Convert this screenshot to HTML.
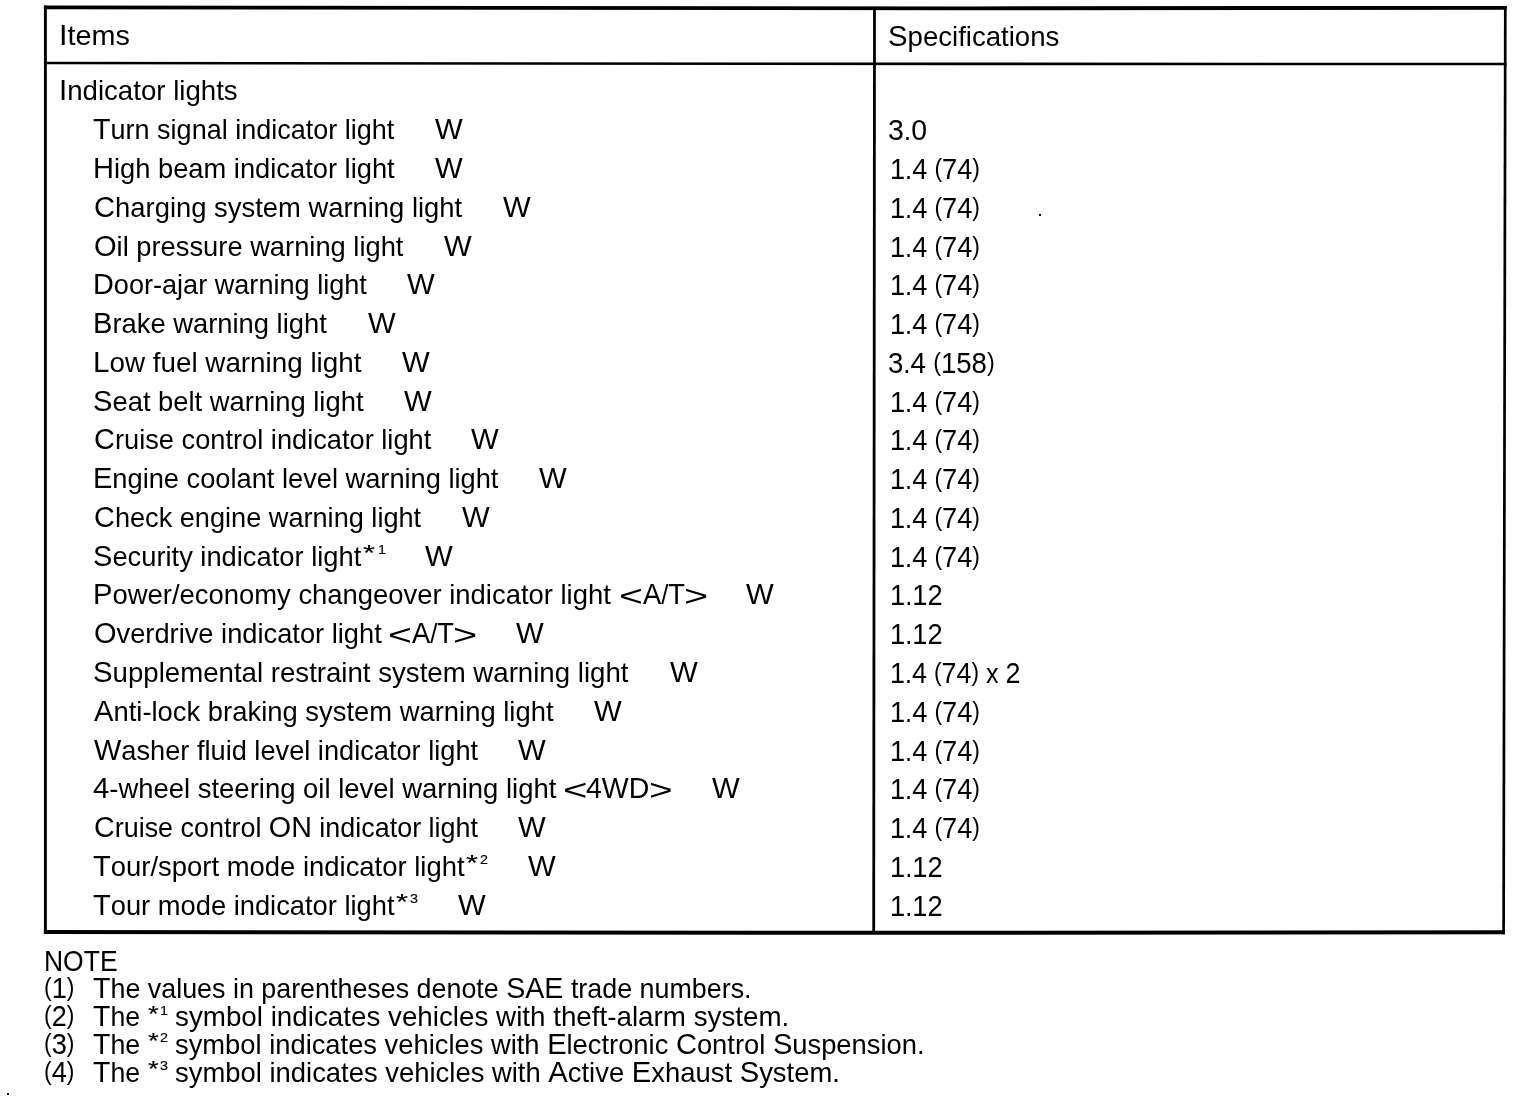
<!DOCTYPE html>
<html lang="en"><head><meta charset="utf-8"><title>Indicator lights specifications</title>
<style>
html,body{margin:0;padding:0;background:#fff;}
body{width:1520px;height:1100px;position:relative;overflow:hidden;font-family:"Liberation Sans",Arial,sans-serif;color:#000;}
.t{position:absolute;white-space:pre;line-height:40px;height:40px;transform-origin:0 0;-webkit-text-stroke:0;}
.s{-webkit-text-stroke:0.15px #000;}
.c{font-size:1.065em;}
.p{font-size:0.9em;position:relative;top:-0.07em;}
svg{position:absolute;left:0;top:0;}
</style></head><body>
<svg width="1520" height="1100" viewBox="0 0 1520 1100">
<g stroke="#000" fill="none" stroke-linecap="butt" stroke-linejoin="miter">
<polyline points="43.9,7.3 970,8.3 1506.6,7.8" stroke-width="3.8"/>
<polyline points="43.9,63.0 970,63.9 1506.6,64.0" stroke-width="2.6"/>
<polyline points="43.9,932.0 880,932.8 1505,932.3" stroke-width="4.1"/>
<line x1="45.4" y1="5.4" x2="45.4" y2="934" stroke-width="2.9"/>
<line x1="1505.3" y1="6" x2="1503.6" y2="934.3" stroke-width="2.7"/>
<line x1="874.5" y1="7" x2="873.7" y2="932" stroke-width="2.8"/>
</g>
<rect x="1039" y="214" width="2" height="2" fill="#000"/>
<rect x="7" y="1093" width="2" height="2" fill="#000"/>
</svg>
<div class="t" style="left:59.00px;top:15px;font-size:28.30px;transform:scaleX(1.0167)"><span class="c">I</span>tems</div>
<div class="t" style="left:888.14px;top:16px;font-size:28.30px;transform:scaleX(0.9743)"><span class="c">S</span>pecifications</div>
<div class="t" style="left:59.12px;top:70px;font-size:28.30px;transform:scaleX(0.9763)"><span class="c">I</span>ndicator lights</div>
<div class="t" style="left:93.28px;top:109px;font-size:28.30px;transform:scaleX(0.9544)"><span class="c">T</span>urn signal indicator light</div>
<div class="t" style="left:434.76px;top:109px;font-size:28.30px;transform:scaleX(0.9750)"><span class="c">W</span></div>
<div class="t" style="left:887.92px;top:110px;font-size:28.30px;transform:scaleX(0.9436)"><span class="c">3</span>.<span class="c">0</span></div>
<div class="t" style="left:93.39px;top:148px;font-size:28.30px;transform:scaleX(0.9645)"><span class="c">H</span>igh beam indicator light</div>
<div class="t" style="left:435.16px;top:148px;font-size:28.30px;transform:scaleX(0.9750)"><span class="c">W</span></div>
<div class="t" style="left:889.97px;top:149px;font-size:28.30px;transform:scaleX(0.9021)"><span class="c">1</span>.<span class="c">4</span> <span class="p">(</span><span class="c">74</span><span class="p">)</span></div>
<div class="t" style="left:93.95px;top:187px;font-size:28.30px;transform:scaleX(0.9679)"><span class="c">C</span>harging system warning light</div>
<div class="t" style="left:502.76px;top:187px;font-size:28.30px;transform:scaleX(0.9750)"><span class="c">W</span></div>
<div class="t" style="left:889.97px;top:188px;font-size:28.30px;transform:scaleX(0.9021)"><span class="c">1</span>.<span class="c">4</span> <span class="p">(</span><span class="c">74</span><span class="p">)</span></div>
<div class="t" style="left:93.95px;top:226px;font-size:28.30px;transform:scaleX(0.9649)"><span class="c">O</span>il pressure warning light</div>
<div class="t" style="left:443.76px;top:226px;font-size:28.30px;transform:scaleX(0.9750)"><span class="c">W</span></div>
<div class="t" style="left:889.97px;top:227px;font-size:28.30px;transform:scaleX(0.9021)"><span class="c">1</span>.<span class="c">4</span> <span class="p">(</span><span class="c">74</span><span class="p">)</span></div>
<div class="t" style="left:93.41px;top:264px;font-size:28.30px;transform:scaleX(0.9575)"><span class="c">D</span>oor-ajar warning light</div>
<div class="t" style="left:407.36px;top:264px;font-size:28.30px;transform:scaleX(0.9750)"><span class="c">W</span></div>
<div class="t" style="left:889.97px;top:265px;font-size:28.30px;transform:scaleX(0.9021)"><span class="c">1</span>.<span class="c">4</span> <span class="p">(</span><span class="c">74</span><span class="p">)</span></div>
<div class="t" style="left:93.38px;top:303px;font-size:28.30px;transform:scaleX(0.9664)"><span class="c">B</span>rake warning light</div>
<div class="t" style="left:367.76px;top:303px;font-size:28.30px;transform:scaleX(0.9750)"><span class="c">W</span></div>
<div class="t" style="left:889.97px;top:304px;font-size:28.30px;transform:scaleX(0.9021)"><span class="c">1</span>.<span class="c">4</span> <span class="p">(</span><span class="c">74</span><span class="p">)</span></div>
<div class="t" style="left:93.34px;top:342px;font-size:28.30px;transform:scaleX(0.9826)"><span class="c">L</span>ow fuel warning light</div>
<div class="t" style="left:402.16px;top:342px;font-size:28.30px;transform:scaleX(0.9750)"><span class="c">W</span></div>
<div class="t" style="left:887.95px;top:343px;font-size:28.30px;transform:scaleX(0.9160)"><span class="c">3</span>.<span class="c">4</span> <span class="p">(</span><span class="c">158</span><span class="p">)</span></div>
<div class="t" style="left:93.25px;top:381px;font-size:28.30px;transform:scaleX(0.9673)"><span class="c">S</span>eat belt warning light</div>
<div class="t" style="left:403.76px;top:381px;font-size:28.30px;transform:scaleX(0.9750)"><span class="c">W</span></div>
<div class="t" style="left:889.97px;top:382px;font-size:28.30px;transform:scaleX(0.9021)"><span class="c">1</span>.<span class="c">4</span> <span class="p">(</span><span class="c">74</span><span class="p">)</span></div>
<div class="t" style="left:93.96px;top:419px;font-size:28.30px;transform:scaleX(0.9623)"><span class="c">C</span>ruise control indicator light</div>
<div class="t" style="left:471.36px;top:419px;font-size:28.30px;transform:scaleX(0.9750)"><span class="c">W</span></div>
<div class="t" style="left:889.97px;top:420px;font-size:28.30px;transform:scaleX(0.9021)"><span class="c">1</span>.<span class="c">4</span> <span class="p">(</span><span class="c">74</span><span class="p">)</span></div>
<div class="t" style="left:93.39px;top:458px;font-size:28.30px;transform:scaleX(0.9625)"><span class="c">E</span>ngine coolant level warning light</div>
<div class="t" style="left:538.76px;top:458px;font-size:28.30px;transform:scaleX(0.9750)"><span class="c">W</span></div>
<div class="t" style="left:889.97px;top:459px;font-size:28.30px;transform:scaleX(0.9021)"><span class="c">1</span>.<span class="c">4</span> <span class="p">(</span><span class="c">74</span><span class="p">)</span></div>
<div class="t" style="left:94.06px;top:497px;font-size:28.30px;transform:scaleX(0.9591)"><span class="c">C</span>heck engine warning light</div>
<div class="t" style="left:462.36px;top:497px;font-size:28.30px;transform:scaleX(0.9750)"><span class="c">W</span></div>
<div class="t" style="left:889.97px;top:498px;font-size:28.30px;transform:scaleX(0.9021)"><span class="c">1</span>.<span class="c">4</span> <span class="p">(</span><span class="c">74</span><span class="p">)</span></div>
<div class="t" style="left:93.25px;top:536px;font-size:28.30px;transform:scaleX(0.9647)"><span class="c">S</span>ecurity indicator light</div>
<div class="t s" style="left:363.45px;top:533px;font-size:22.00px;transform:scaleX(1.4000)">*</div>
<div class="t s" style="left:377.54px;top:530px;font-size:12.50px;transform:scaleX(1.1500)">1</div>
<div class="t" style="left:425.26px;top:536px;font-size:28.30px;transform:scaleX(0.9750)"><span class="c">W</span></div>
<div class="t" style="left:889.97px;top:537px;font-size:28.30px;transform:scaleX(0.9021)"><span class="c">1</span>.<span class="c">4</span> <span class="p">(</span><span class="c">74</span><span class="p">)</span></div>
<div class="t" style="left:93.38px;top:574px;font-size:28.30px;transform:scaleX(0.9689)"><span class="c">P</span>ower/economy changeover indicator light</div>
<div class="t" style="left:619.15px;top:576px;font-size:30.00px;transform:scaleX(1.3655)">&lt;</div>
<div class="t" style="left:642.90px;top:574px;font-size:28.30px;transform:scaleX(0.9071)"><span class="c">A</span>/<span class="c">T</span></div>
<div class="t" style="left:684.03px;top:576px;font-size:30.00px;transform:scaleX(1.3793)">&gt;</div>
<div class="t" style="left:746.26px;top:574px;font-size:28.30px;transform:scaleX(0.9750)"><span class="c">W</span></div>
<div class="t" style="left:889.56px;top:575px;font-size:28.30px;transform:scaleX(0.9046)"><span class="c">1</span>.<span class="c">12</span></div>
<div class="t" style="left:93.96px;top:613px;font-size:28.30px;transform:scaleX(0.9633)"><span class="c">O</span>verdrive indicator light</div>
<div class="t" style="left:388.05px;top:615px;font-size:30.00px;transform:scaleX(1.3655)">&lt;</div>
<div class="t" style="left:411.80px;top:613px;font-size:28.30px;transform:scaleX(0.9071)"><span class="c">A</span>/<span class="c">T</span></div>
<div class="t" style="left:452.93px;top:615px;font-size:30.00px;transform:scaleX(1.3793)">&gt;</div>
<div class="t" style="left:515.86px;top:613px;font-size:28.30px;transform:scaleX(0.9750)"><span class="c">W</span></div>
<div class="t" style="left:889.56px;top:614px;font-size:28.30px;transform:scaleX(0.9046)"><span class="c">1</span>.<span class="c">12</span></div>
<div class="t" style="left:93.24px;top:652px;font-size:28.30px;transform:scaleX(0.9761)"><span class="c">S</span>upplemental restraint system warning light</div>
<div class="t" style="left:669.66px;top:652px;font-size:28.30px;transform:scaleX(0.9750)"><span class="c">W</span></div>
<div class="t" style="left:889.99px;top:653px;font-size:28.30px;transform:scaleX(0.8918)"><span class="c">1</span>.<span class="c">4</span> <span class="p">(</span><span class="c">74</span><span class="p">)</span> x <span class="c">2</span></div>
<div class="t" style="left:94.00px;top:691px;font-size:28.30px;transform:scaleX(0.9682)"><span class="c">A</span>nti-lock braking system warning light</div>
<div class="t" style="left:593.96px;top:691px;font-size:28.30px;transform:scaleX(0.9750)"><span class="c">W</span></div>
<div class="t" style="left:889.97px;top:692px;font-size:28.30px;transform:scaleX(0.9021)"><span class="c">1</span>.<span class="c">4</span> <span class="p">(</span><span class="c">74</span><span class="p">)</span></div>
<div class="t" style="left:93.76px;top:730px;font-size:28.30px;transform:scaleX(0.9611)"><span class="c">W</span>asher fluid level indicator light</div>
<div class="t" style="left:518.36px;top:730px;font-size:28.30px;transform:scaleX(0.9750)"><span class="c">W</span></div>
<div class="t" style="left:889.97px;top:731px;font-size:28.30px;transform:scaleX(0.9021)"><span class="c">1</span>.<span class="c">4</span> <span class="p">(</span><span class="c">74</span><span class="p">)</span></div>
<div class="t" style="left:93.17px;top:768px;font-size:28.30px;transform:scaleX(0.9701)"><span class="c">4</span>-wheel steering oil level warning light</div>
<div class="t" style="left:562.80px;top:770px;font-size:30.00px;transform:scaleX(1.4000)">&lt;</div>
<div class="t" style="left:585.89px;top:768px;font-size:28.30px;transform:scaleX(0.9452)"><span class="c">4WD</span></div>
<div class="t" style="left:648.67px;top:770px;font-size:30.00px;transform:scaleX(1.3517)">&gt;</div>
<div class="t" style="left:712.06px;top:768px;font-size:28.30px;transform:scaleX(0.9750)"><span class="c">W</span></div>
<div class="t" style="left:889.97px;top:769px;font-size:28.30px;transform:scaleX(0.9021)"><span class="c">1</span>.<span class="c">4</span> <span class="p">(</span><span class="c">74</span><span class="p">)</span></div>
<div class="t" style="left:93.97px;top:807px;font-size:28.30px;transform:scaleX(0.9516)"><span class="c">C</span>ruise control <span class="c">ON</span> indicator light</div>
<div class="t" style="left:518.36px;top:807px;font-size:28.30px;transform:scaleX(0.9750)"><span class="c">W</span></div>
<div class="t" style="left:889.97px;top:808px;font-size:28.30px;transform:scaleX(0.9021)"><span class="c">1</span>.<span class="c">4</span> <span class="p">(</span><span class="c">74</span><span class="p">)</span></div>
<div class="t" style="left:93.27px;top:846px;font-size:28.30px;transform:scaleX(0.9693)"><span class="c">T</span>our/sport mode indicator light</div>
<div class="t s" style="left:465.65px;top:843px;font-size:22.00px;transform:scaleX(1.4000)">*</div>
<div class="t s" style="left:480.43px;top:840px;font-size:12.50px;transform:scaleX(1.1500)">2</div>
<div class="t" style="left:527.66px;top:846px;font-size:28.30px;transform:scaleX(0.9750)"><span class="c">W</span></div>
<div class="t" style="left:889.56px;top:847px;font-size:28.30px;transform:scaleX(0.9046)"><span class="c">1</span>.<span class="c">12</span></div>
<div class="t" style="left:93.28px;top:885px;font-size:28.30px;transform:scaleX(0.9647)"><span class="c">T</span>our mode indicator light</div>
<div class="t s" style="left:395.65px;top:882px;font-size:22.00px;transform:scaleX(1.4000)">*</div>
<div class="t s" style="left:410.43px;top:879px;font-size:12.50px;transform:scaleX(1.1500)">3</div>
<div class="t" style="left:457.76px;top:885px;font-size:28.30px;transform:scaleX(0.9750)"><span class="c">W</span></div>
<div class="t" style="left:889.56px;top:886px;font-size:28.30px;transform:scaleX(0.9046)"><span class="c">1</span>.<span class="c">12</span></div>
<div class="t" style="left:43.50px;top:941px;font-size:28.30px;transform:scaleX(0.8790)"><span class="c">NOTE</span></div>
<div class="t" style="left:44.15px;top:968px;font-size:28.30px;transform:scaleX(0.9008)"><span class="p">(</span><span class="c">1</span><span class="p">)</span></div>
<div class="t" style="left:44.15px;top:996px;font-size:28.30px;transform:scaleX(0.9008)"><span class="p">(</span><span class="c">2</span><span class="p">)</span></div>
<div class="t" style="left:44.15px;top:1024px;font-size:28.30px;transform:scaleX(0.9008)"><span class="p">(</span><span class="c">3</span><span class="p">)</span></div>
<div class="t" style="left:44.15px;top:1052px;font-size:28.30px;transform:scaleX(0.9008)"><span class="p">(</span><span class="c">4</span><span class="p">)</span></div>
<div class="t" style="left:93.29px;top:968px;font-size:28.30px;transform:scaleX(0.9492)"><span class="c">T</span>he values in parentheses denote <span class="c">SAE</span> trade numbers.</div>
<div class="t" style="left:93.29px;top:996px;font-size:28.30px;transform:scaleX(0.9445)"><span class="c">T</span>he</div>
<div class="t s" style="left:148.19px;top:994px;font-size:22.00px;transform:scaleX(1.2500)">*</div>
<div class="t s" style="left:159.74px;top:991px;font-size:12.50px;transform:scaleX(1.1500)">1</div>
<div class="t" style="left:175.46px;top:996px;font-size:28.30px;transform:scaleX(0.9815)">symbol indicates vehicles with theft-alarm system.</div>
<div class="t" style="left:93.29px;top:1024px;font-size:28.30px;transform:scaleX(0.9445)"><span class="c">T</span>he</div>
<div class="t s" style="left:148.19px;top:1021px;font-size:22.00px;transform:scaleX(1.2500)">*</div>
<div class="t s" style="left:160.43px;top:1018px;font-size:12.50px;transform:scaleX(1.1500)">2</div>
<div class="t" style="left:175.48px;top:1024px;font-size:28.30px;transform:scaleX(0.9658)">symbol indicates vehicles with <span class="c">E</span>lectronic <span class="c">C</span>ontrol <span class="c">S</span>uspension.</div>
<div class="t" style="left:93.29px;top:1052px;font-size:28.30px;transform:scaleX(0.9445)"><span class="c">T</span>he</div>
<div class="t s" style="left:148.19px;top:1049px;font-size:22.00px;transform:scaleX(1.2500)">*</div>
<div class="t s" style="left:160.43px;top:1046px;font-size:12.50px;transform:scaleX(1.1500)">3</div>
<div class="t" style="left:175.47px;top:1052px;font-size:28.30px;transform:scaleX(0.9689)">symbol indicates vehicles with <span class="c">A</span>ctive <span class="c">E</span>xhaust <span class="c">S</span>ystem.</div>
</body></html>
